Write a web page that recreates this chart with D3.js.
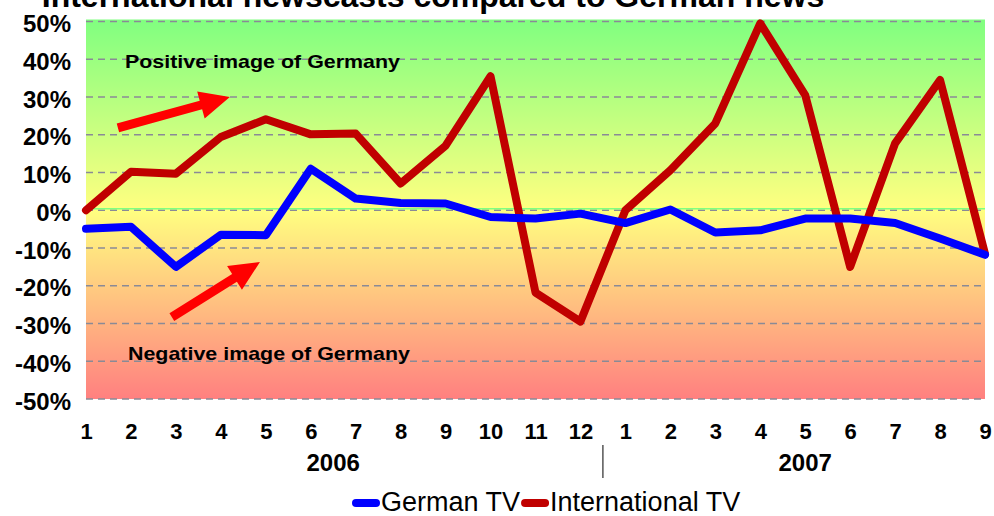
<!DOCTYPE html>
<html>
<head>
<meta charset="utf-8">
<script src="https://cdn.jsdelivr.net/npm/d3@7"></script>
<style>
  html, body { margin: 0; padding: 0; background: #fff; }
  svg { display: block; font-family: "Liberation Sans", Arial, sans-serif; }
</style>
</head>
<body>
<div id="chart"></div>
<script>
// months along the x axis (2006: 1-12, 2007: 1-9)
const months = ["1","2","3","4","5","6","7","8","9","10","11","12","1","2","3","4","5","6","7","8","9"];
const years = ["2006", "2007"];
const monthsPerYear = [12, 9];

// balance of coverage, in percent
const germanTV = [-4.9, -4.4, -15, -6.5, -6.6, 11, 3.1, 1.9, 1.8, -1.8, -2.2, -0.9,
                  -3.4, 0.2, -5.9, -5.3, -2.2, -2.2, -3.4, -7.5, -11.8];
const internationalTV = [0, 10.2, 9.7, 19.4, 24.1, 20.1, 20.3, 7.1, 17.1, 35.5, -21.8, -29.5,
                         0, 10.6, 23, 49.5, 30.5, -15, 17.7, 34.5, -11.5];

const yTicks = [-50, -40, -30, -20, -10, 0, 10, 20, 30, 40, 50];

// annotation arrows, in (month index, percent)
const arrowTails = [[0.71, 21.8], [1.91, -28.3]];
const arrowTips = [[3.2, 30], [3.87, -13.7]];

const width = 994, height = 516;
const marginLeft = 86, marginRight = 9, marginTop = 21.5, marginBottom = 117;

const svg = d3.select("#chart").append("svg")
  .attr("width", width)
  .attr("height", height)
  .attr("viewBox", `0 0 ${width} ${height}`);

const x = d3.scalePoint()
  .domain(d3.range(months.length))
  .range([marginLeft, width - marginRight]);

// linear version of x, for the annotation arrows
const xl = d3.scaleLinear()
  .domain([0, months.length - 1])
  .range([marginLeft, width - marginRight]);

const y = d3.scaleLinear()
  .domain([-50, 50])
  .range([height - marginBottom, marginTop]);

// background: green on top, yellow at zero, red at the bottom
const grad = svg.append("defs").append("linearGradient")
  .attr("id", "bg")
  .attr("x1", 0).attr("y1", 0).attr("x2", 0).attr("y2", 1);
grad.append("stop").attr("offset", "0%").attr("stop-color", "#80ff80");
grad.append("stop").attr("offset", "50%").attr("stop-color", "#ffff80");
grad.append("stop").attr("offset", "100%").attr("stop-color", "#ff8080");

svg.append("rect")
  .attr("x", marginLeft)
  .attr("y", y(50) - 2)
  .attr("width", width - marginRight - marginLeft)
  .attr("height", y(-50) - y(50) + 2)
  .attr("fill", "url(#bg)");

// dashed grid
svg.append("g")
  .attr("stroke", "#8a8a96")
  .attr("stroke-width", 1.3)
  .attr("stroke-dasharray", "7,5")
  .selectAll("line")
  .data(yTicks)
  .join("line")
  .attr("x1", marginLeft)
  .attr("x2", width - marginRight)
  .attr("y1", d => y(d))
  .attr("y2", d => y(d));

// light green zero line
svg.append("line")
  .attr("x1", marginLeft)
  .attr("x2", width - marginRight)
  .attr("y1", y(0) - 1.5)
  .attr("y2", y(0) - 1.5)
  .attr("stroke", "#80ff80")
  .attr("stroke-width", 1.5);

// y axis
svg.append("g")
  .attr("transform", `translate(${marginLeft - 15},2.5)`)
  .call(d3.axisLeft(y).tickValues(yTicks).tickSize(0).tickPadding(0).tickFormat(d => d + "%"))
  .call(g => g.select(".domain").remove())
  .call(g => g.selectAll("text")
    .attr("font-family", "Liberation Sans, Arial, sans-serif")
    .attr("font-size", 24)
    .attr("font-weight", "bold")
    .attr("fill", "#000"));

// x axis (months)
svg.append("g")
  .attr("transform", `translate(0,${y(-50)})`)
  .call(d3.axisBottom(x).tickSize(0).tickPadding(24).tickFormat(i => months[i]))
  .call(g => g.select(".domain").remove())
  .call(g => g.selectAll("text")
    .attr("font-family", "Liberation Sans, Arial, sans-serif")
    .attr("font-size", 22)
    .attr("font-weight", "bold")
    .attr("fill", "#000"));

// year labels and separator
const yearStart = d3.cumsum([0, ...monthsPerYear]);
svg.append("g")
  .selectAll("text")
  .data(years)
  .join("text")
  .attr("x", (d, i) => (x(yearStart[i]) + x(yearStart[i + 1] - 1)) / 2)
  .attr("y", 471)
  .attr("text-anchor", "middle")
  .attr("font-size", 24)
  .attr("font-weight", "bold")
  .text(d => d);

svg.append("line")
  .attr("x1", (x(yearStart[1] - 1) + x(yearStart[1])) / 2)
  .attr("x2", (x(yearStart[1] - 1) + x(yearStart[1])) / 2)
  .attr("y1", 445)
  .attr("y2", 478)
  .attr("stroke", "#000")
  .attr("stroke-width", 1);

// annotation arrows
function arrowPath(t, h) {
  const x0 = xl(t[0]), y0 = y(t[1]), x1 = xl(h[0]), y1 = y(h[1]);
  const len = Math.hypot(x1 - x0, y1 - y0);
  const ux = (x1 - x0) / len, uy = (y1 - y0) / len;
  const nx = -uy, ny = ux;
  const shaft = 4.5, head = 14, headLen = 30;
  const bx = x1 - ux * headLen, by = y1 - uy * headLen;
  const pts = [
    [x0 + nx * shaft, y0 + ny * shaft],
    [bx + nx * shaft, by + ny * shaft],
    [bx + nx * head, by + ny * head],
    [x1, y1],
    [bx - nx * head, by - ny * head],
    [bx - nx * shaft, by - ny * shaft],
    [x0 - nx * shaft, y0 - ny * shaft]
  ];
  return "M" + pts.map(p => p.join(",")).join("L") + "Z";
}

svg.append("g")
  .attr("fill", "#ff0000")
  .selectAll("path")
  .data(arrowTails)
  .join("path")
  .attr("d", (d, i) => arrowPath(d, arrowTips[i]));

svg.append("text")
  .attr("x", 125).attr("y", 68)
  .attr("font-size", 19).attr("font-weight", "bold")
  .attr("textLength", 275).attr("lengthAdjust", "spacingAndGlyphs")
  .text("Positive image of Germany");

svg.append("text")
  .attr("x", 128).attr("y", 360)
  .attr("font-size", 19).attr("font-weight", "bold")
  .attr("textLength", 282).attr("lengthAdjust", "spacingAndGlyphs")
  .text("Negative image of Germany");

// lines
const line = d3.line()
  .x((d, i) => x(i))
  .y(d => y(d));

const series = [
  { name: "German TV", values: germanTV, color: "#0000ff" },
  { name: "International TV", values: internationalTV, color: "#c00000" }
];

svg.append("g")
  .attr("fill", "none")
  .attr("stroke-width", 8)
  .attr("stroke-linejoin", "round")
  .attr("stroke-linecap", "round")
  .selectAll("path")
  .data(series.slice().reverse())
  .join("path")
  .attr("stroke", d => d.color)
  .attr("d", d => line(d.values));

// title (clipped at the top like the original)
svg.append("text")
  .attr("x", 433).attr("y", 7)
  .attr("text-anchor", "middle")
  .attr("font-size", 32).attr("font-weight", "bold")
  .text("International newscasts compared to German news");

// legend
const legend = svg.append("g").attr("transform", "translate(352,503)");
let lx = 0;
series.forEach(s => {
  legend.append("line")
    .attr("x1", lx + 4).attr("x2", lx + 24)
    .attr("stroke", s.color)
    .attr("stroke-width", 8)
    .attr("stroke-linecap", "round");
  const t = legend.append("text")
    .attr("x", lx + 29).attr("y", 8)
    .attr("font-size", 27)
    .text(s.name);
  lx += 29 + t.node().getComputedTextLength() + 1;
});
</script>
</body>
</html>
